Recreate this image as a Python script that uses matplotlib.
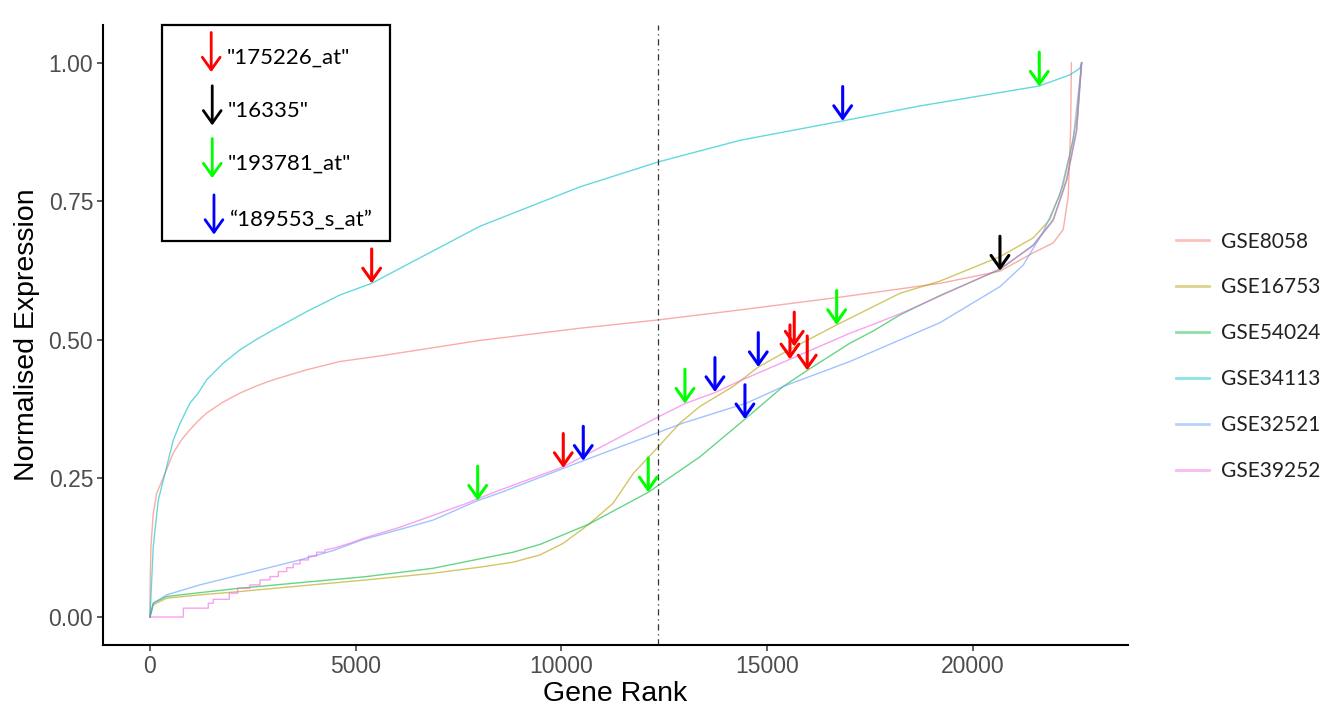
import matplotlib.pyplot as plt
from matplotlib.lines import Line2D
from matplotlib.patches import Rectangle

plt.rcParams["font.family"] = ["Liberation Sans", "DejaVu Sans"]

# 数据集名称与配色
datasets = ["GSE8058", "GSE16753", "GSE54024", "GSE34113", "GSE32521", "GSE39252"]
colors = ["#F8766D", "#B79F00", "#00BA38", "#00BFC4", "#619CFF", "#F564E3"]

# 各数据集的基因排名与归一化表达量
rank_8058 = [0, 5, 24, 80, 163, 365, 566, 770, 972, 1174, 1378, 1782, 2187, 2592, 2996,
             3808, 4617, 5589, 8019, 10449, 12352, 14337, 16767, 19197, 20655, 21464,
             21950, 22193, 22315, 22373, 22392]
expr_8058 = [0, 0.067, 0.127, 0.187, 0.223, 0.259, 0.296, 0.320, 0.338, 0.354, 0.368,
             0.388, 0.404, 0.417, 0.428, 0.446, 0.461, 0.471, 0.499, 0.521, 0.536,
             0.554, 0.577, 0.602, 0.624, 0.657, 0.675, 0.699, 0.759, 0.879, 1.0]

rank_16753 = [0, 80, 406, 1215, 2187, 3645, 5266, 6884, 8019, 8829, 9477, 10043, 10643,
              11251, 11744, 12352, 12879, 13365, 14174, 14782, 15656, 16687, 18225,
              19197, 20655, 21464, 21870, 22193, 22356, 22519, 22641]
expr_16753 = [0, 0.022, 0.034, 0.040, 0.046, 0.056, 0.067, 0.079, 0.090, 0.099, 0.112,
              0.133, 0.166, 0.205, 0.259, 0.307, 0.350, 0.380, 0.416, 0.451, 0.487,
              0.527, 0.584, 0.606, 0.650, 0.684, 0.717, 0.780, 0.834, 0.897, 1.0]

rank_54024 = [0, 80, 406, 1215, 2187, 3645, 5266, 6884, 8019, 8829, 9477, 10651, 12109,
              13365, 14459, 15390, 15973, 17010, 17576, 18225, 19197, 20655, 21464,
              21950, 22276, 22519, 22641]
expr_54024 = [0, 0.025, 0.037, 0.044, 0.052, 0.062, 0.073, 0.088, 0.105, 0.117, 0.131,
              0.167, 0.225, 0.289, 0.357, 0.416, 0.445, 0.494, 0.516, 0.545, 0.580,
              0.627, 0.671, 0.717, 0.789, 0.879, 1.0]

rank_34113 = [0, 80, 202, 365, 566, 729, 972, 1174, 1378, 1782, 2187, 2592, 2996, 3808,
              4617, 5388, 6075, 8019, 10449, 12352, 14337, 16833, 18711, 21610, 22356,
              22599, 22641]
expr_34113 = [0, 0.127, 0.211, 0.259, 0.319, 0.349, 0.386, 0.404, 0.428, 0.458, 0.482,
              0.501, 0.518, 0.551, 0.581, 0.602, 0.629, 0.705, 0.776, 0.821, 0.860,
              0.895, 0.922, 0.958, 0.978, 0.990, 1.0]

rank_32521 = [0, 80, 406, 1215, 2024, 2836, 3645, 4454, 5183, 6075, 6884, 7963, 8505,
              10529, 12352, 12959, 14500, 15390, 17010, 19197, 20655, 21222, 21708,
              22113, 22436, 22641]
expr_32521 = [0, 0.025, 0.040, 0.058, 0.073, 0.088, 0.103, 0.120, 0.140, 0.158, 0.175,
              0.210, 0.224, 0.282, 0.333, 0.350, 0.386, 0.416, 0.461, 0.531, 0.596,
              0.635, 0.695, 0.762, 0.861, 1.0]

# GSE39252 低表达区为离散台阶
rank_39252 = [0, 810, 810, 1417, 1417, 1538, 1538, 1927, 1927, 2131, 2131, 2430, 2430,
              2673, 2673, 2916, 2916, 3118, 3118, 3322, 3322, 3482, 3482, 3650, 3650,
              3850, 3850, 4050, 4050, 4250, 4250, 4454, 4860, 5183, 6075, 7696, 8019,
              8505, 10043, 12352, 13001, 13730, 14337, 15552, 17010, 17576, 18225,
              19197, 20655, 21464, 21950, 22276, 22519, 22641]
expr_39252 = [0, 0, 0.016, 0.016, 0.025, 0.025, 0.032, 0.032, 0.043, 0.043, 0.052,
              0.052, 0.058, 0.058, 0.067, 0.067, 0.073, 0.073, 0.082, 0.082, 0.089,
              0.089, 0.096, 0.096, 0.103, 0.103, 0.110, 0.110, 0.117, 0.117, 0.121,
              0.124, 0.133, 0.142, 0.162, 0.205, 0.215, 0.229, 0.271, 0.361, 0.385,
              0.405, 0.426, 0.465, 0.512, 0.528, 0.547, 0.579, 0.628, 0.670, 0.715,
              0.787, 0.877, 1.0]

ranks = [rank_8058, rank_16753, rank_54024, rank_34113, rank_32521, rank_39252]
exprs = [expr_8058, expr_16753, expr_54024, expr_34113, expr_32521, expr_39252]

# 探针标注（箭头位置）
probes = ['"175226_at"', '"16335"', '"193781_at"', '\u201c189553_s_at\u201d']
probe_colors = ["#FF0000", "#000000", "#00FF00", "#0000FF"]
probe_rank = [[5388, 10044, 15553, 15657, 15973],
              [20656],
              [7964, 12109, 13001, 16688, 21611],
              [10530, 13730, 14459, 14783, 16834]]
probe_expr = [[0.602, 0.269, 0.465, 0.488, 0.445],
              [0.625],
              [0.210, 0.225, 0.385, 0.527, 0.957],
              [0.282, 0.406, 0.357, 0.451, 0.895]]

cutoff_rank = 12357
arrow_len = 0.062

fig = plt.figure(figsize=(13.39, 7.11), dpi=100)
ax = fig.add_axes([0.0769, 0.0928, 0.7655, 0.872])

for r, e, c in zip(ranks, exprs, colors):
    ax.plot(r, e, color=c, lw=1.0, alpha=0.6, solid_joinstyle="round")

ax.axvline(cutoff_rank, color="#333333", lw=0.9, linestyle=(0, (5, 3, 1, 3)))

for xs, ys, c in zip(probe_rank, probe_expr, probe_colors):
    for x, y in zip(xs, ys):
        ax.annotate("", xy=(x, y), xytext=(x, y + arrow_len),
                    arrowprops=dict(arrowstyle="->,head_length=0.45,head_width=0.32",
                                    color=c, lw=2.2, shrinkA=0, shrinkB=0,
                                    mutation_scale=20))

ax.set_xlim(-1142, 23767)
ax.set_ylim(-0.0505, 1.068)
ax.set_xticks([0, 5000, 10000, 15000, 20000])
ax.set_yticks([0, 0.25, 0.5, 0.75, 1.0])
ax.set_yticklabels(["0.00", "0.25", "0.50", "0.75", "1.00"])
ax.tick_params(labelsize=16.5, labelcolor="#4D4D4D", color="#333333", length=4, width=1.1, pad=3)
ax.set_xlabel("Gene Rank", fontsize=20.5, labelpad=2)
ax.set_ylabel("Normalised Expression", fontsize=20.5, labelpad=6)
for s in ["top", "right"]:
    ax.spines[s].set_visible(False)
for s in ["left", "bottom"]:
    ax.spines[s].set_linewidth(1.5)

# 探针说明框
ax.add_patch(Rectangle((0.0576, 0.6516), 0.2224, 0.3484, transform=ax.transAxes,
                       fill=False, ec="black", lw=1.6, clip_on=False))
box_arrow_x = [0.1056, 0.1066, 0.1066, 0.1083]
box_row_y = [0.956, 0.870, 0.785, 0.694]
for lab, c, bx, by in zip(probes, probe_colors, box_arrow_x, box_row_y):
    ax.annotate("", xy=(bx, by - 0.032), xytext=(bx, by + 0.032), xycoords="axes fraction",
                arrowprops=dict(arrowstyle="->,head_length=0.45,head_width=0.32",
                                color=c, lw=2.0, shrinkA=0, shrinkB=0, mutation_scale=20))
    ax.text(bx + 0.0155, by - 0.008, lab, transform=ax.transAxes, fontsize=16,
            family=["Lato", "DejaVu Sans"], va="center", ha="left")

handles = [Line2D([0], [0], color=c, lw=2, alpha=0.45) for c in colors]
fig.legend(handles, datasets, loc="center left", bbox_to_anchor=(1176 / 1339, 0.499),
           bbox_transform=fig.transFigure, frameon=False, borderpad=0, borderaxespad=0,
           handlelength=1.57, handletextpad=0.6, labelspacing=1.24,
           prop={"family": ["Lato", "DejaVu Sans"], "size": 15}, labelcolor="#222222")

fig.savefig("out.png", dpi=100)
